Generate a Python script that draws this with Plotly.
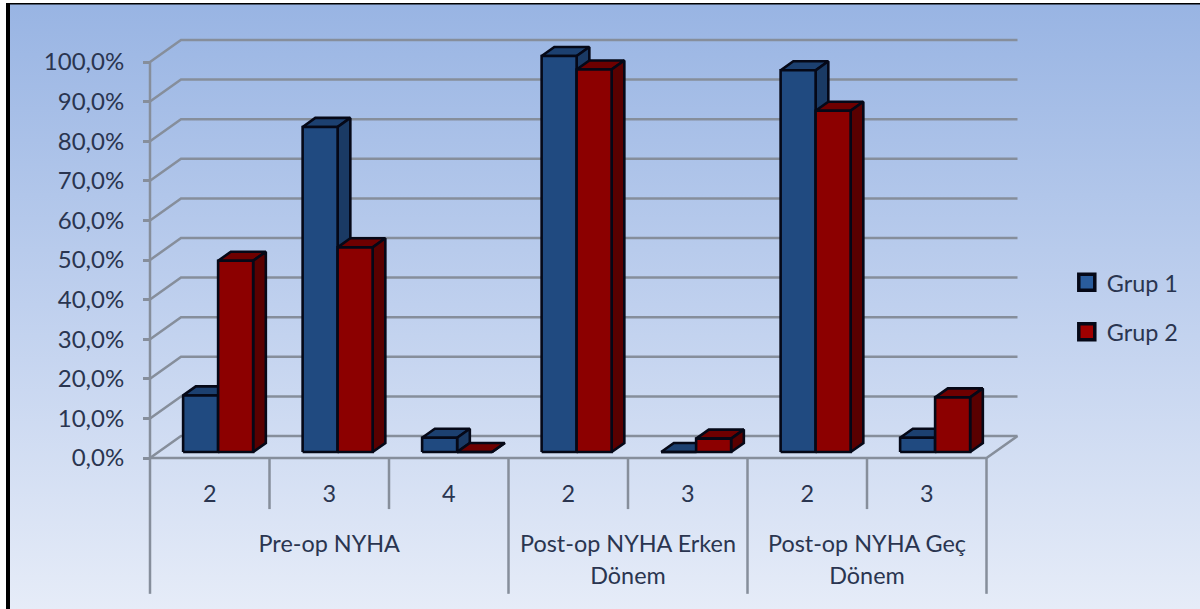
import plotly.graph_objects as go

# Category labels and series values (percent of each group)
tier_labels = ["2", "3", "4", "2", "3", "2", "3"]
group_lines = [["Pre-op NYHA"], ["Post-op NYHA Erken", "Dönem"], ["Post-op NYHA Geç", "Dönem"]]
group_spans = [(0, 3), (3, 5), (5, 7)]
series_names = ["Grup 1", "Grup 2"]
grup_1 = [14.3, 82.1, 3.6, 100.0, 0.0, 96.4, 3.6]
grup_2 = [48.3, 51.7, 0.0, 96.6, 3.4, 86.2, 13.8]
y_ticks = [0, 10, 20, 30, 40, 50, 60, 70, 80, 90, 100]
y_tick_text = ["0,0%", "10,0%", "20,0%", "30,0%", "40,0%", "50,0%",
               "60,0%", "70,0%", "80,0%", "90,0%", "100,0%"]

# Pixel scale of the axes and the oblique projection of the 3D box
W, H = 1200, 609
X_PX, Y_PX = 119.5, 3.96
X0_PX, Y0_PX = 150, 458
DEPTH_X = 31 / X_PX
DEPTH_Y = 22 / Y_PX
BAR_W = 35 / X_PX
BAR_D0, BAR_D1 = 0.27, 0.68
n = len(tier_labels)

FONT = "Lato"
TEXT = "#2a3550"
GRID = "#868e9b"
BLUE = ("#204a80", "#1a3a64", "#1c4070")
RED = ("#8c0000", "#590000", "#6e0000")
EDGE = "#050817"
SWATCH_COLORS = ("#2a5c9c", "#a00000")


def proj(x, v, d):
    return x + d * DEPTH_X, v + d * DEPTH_Y


def line(xs, ys, width=2.5, color=GRID):
    return go.Scatter(x=xs, y=ys, mode="lines", line=dict(color=color, width=width),
                      showlegend=False, hoverinfo="skip")


def face(points, color):
    xs, ys = zip(*points)
    return go.Scatter(x=list(xs) + [xs[0]], y=list(ys) + [ys[0]], mode="lines", fill="toself",
                      fillcolor=color, line=dict(color=EDGE, width=2.6),
                      showlegend=False, hoverinfo="skip")


def column(x, v, colors):
    front, side, top = colors
    xr = x + BAR_W
    return [
        face([proj(x, v, BAR_D0), proj(xr, v, BAR_D0), proj(xr, v, BAR_D1), proj(x, v, BAR_D1)], top),
        face([proj(xr, 0, BAR_D0), proj(xr, 0, BAR_D1), proj(xr, v, BAR_D1), proj(xr, v, BAR_D0)], side),
        face([proj(x, 0, BAR_D0), proj(xr, 0, BAR_D0), proj(xr, v, BAR_D0), proj(x, v, BAR_D0)], front),
    ]


x_range = [-X0_PX / X_PX, (W - X0_PX) / X_PX]
y_range = [-(H - Y0_PX) / Y_PX, Y0_PX / Y_PX]

fig = go.Figure()

# Page background gradient
fig.add_trace(go.Scatter(
    x=[x_range[0], x_range[1], x_range[1], x_range[0], x_range[0]],
    y=[y_range[0], y_range[0], y_range[1], y_range[1], y_range[0]],
    mode="lines", line=dict(width=0), fill="toself", hoverinfo="skip", showlegend=False,
    fillgradient=dict(type="vertical",
                      colorscale=[[0, "#e6ecf8"], [0.5, "#bfd0ee"], [1, "#98b4e3"]]),
))

# Wall gridlines, floor edges and the left axis line
for t in y_ticks:
    bx, by = proj(0, t, 1)
    ex, ey = proj(n, t, 1)
    fig.add_trace(line([0, bx, ex], [t, by, ey]))
fig.add_trace(line([0, 0], [0, 100]))
fig.add_trace(line([0, n, proj(n, 0, 1)[0]], [0, 0, proj(n, 0, 1)[1]]))

# Category separators below the floor
short_sep = [1, 2, 4, 6]
long_sep = [0, 3, 5, 7]
for s in short_sep:
    fig.add_trace(line([s, s], [0, -12.9]))
for s in long_sep:
    fig.add_trace(line([s, s], [0, -34.3]))

# Columns, drawn left to right so nearer faces overlap correctly
for i in range(n):
    x_left = i + (1 - 2 * BAR_W) / 2
    for trace in column(x_left, grup_1[i], BLUE):
        fig.add_trace(trace)
    for trace in column(x_left + BAR_W, grup_2[i], RED):
        fig.add_trace(trace)

# Category labels on two levels
fig.add_trace(go.Scatter(
    x=[i + 0.5 for i in range(n)], y=[-9.7] * n, text=tier_labels, mode="text",
    textfont=dict(family=FONT, size=23.4, color=TEXT), showlegend=False, hoverinfo="skip",
))
for lines, (a, b) in zip(group_lines, group_spans):
    fig.add_trace(go.Scatter(
        x=[(a + b) / 2] * len(lines), y=[-22.2 - 8.1 * k for k in range(len(lines))],
        text=lines, mode="text", textfont=dict(family=FONT, size=23.4, color=TEXT),
        showlegend=False, hoverinfo="skip",
    ))

# Legend entries
for name, color in zip(series_names, SWATCH_COLORS):
    fig.add_trace(go.Scatter(
        x=[None], y=[None], mode="markers", name=name, legendgroup=name,
        marker=dict(symbol="square", size=16, color=color, line=dict(color=EDGE, width=3.5)),
    ))

fig.update_layout(
    width=W, height=H, margin=dict(l=0, r=0, t=0, b=0),
    paper_bgcolor="white", plot_bgcolor="rgba(0,0,0,0)",
    font=dict(family=FONT, color=TEXT),
    xaxis=dict(range=x_range, visible=False, fixedrange=True),
    yaxis=dict(
        range=y_range, anchor="free", position=X0_PX / W, side="left",
        tickmode="array", tickvals=y_ticks, ticktext=y_tick_text,
        ticks="outside", ticklen=7, tickwidth=2.5, tickcolor=GRID,
        tickfont=dict(family=FONT, size=24, color=TEXT), ticklabelstandoff=14,
        showgrid=False, zeroline=False, showline=False, fixedrange=True,
    ),
    legend=dict(x=0.889, y=0.572, xanchor="left", yanchor="top", bgcolor="rgba(0,0,0,0)",
                font=dict(family=FONT, size=23.4, color=TEXT), tracegroupgap=16),
    shapes=[
        dict(type="rect", xref="paper", yref="paper", x0=0, x1=6 / W, y0=0, y1=1,
             fillcolor="white", line_width=0, layer="above"),
        dict(type="rect", xref="paper", yref="paper", x0=0, x1=1, y0=1 - 3 / H, y1=1,
             fillcolor="white", line_width=0, layer="above"),
        dict(type="rect", xref="paper", yref="paper", x0=6 / W, x1=10 / W, y0=0, y1=1 - 3 / H,
             fillcolor="black", line_width=0, layer="above"),
        dict(type="rect", xref="paper", yref="paper", x0=6 / W, x1=1, y0=1 - 4.5 / H, y1=1 - 3 / H,
             fillcolor="black", line_width=0, layer="above"),
    ],
)

fig.write_html("out.html")
